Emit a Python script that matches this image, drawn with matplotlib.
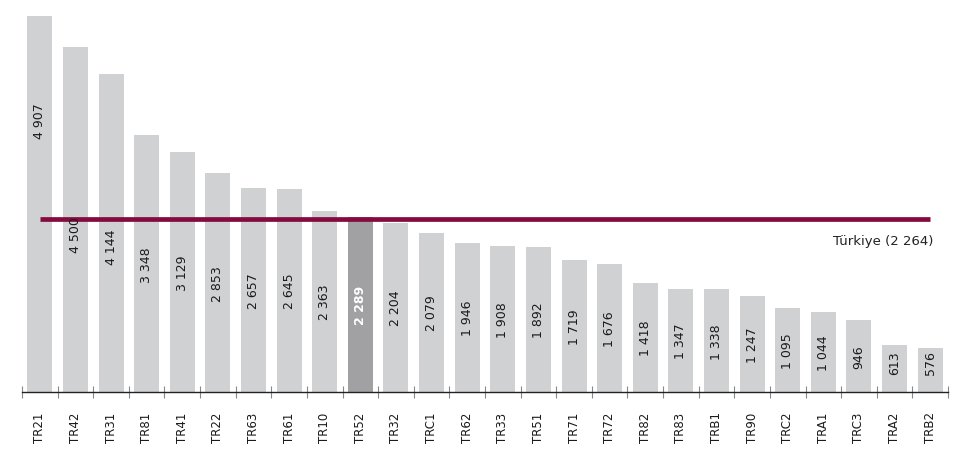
import numpy as np
import matplotlib
matplotlib.use('agg')
import matplotlib.pyplot as plt

regions = ['TR21', 'TR42', 'TR31', 'TR81', 'TR41', 'TR22', 'TR63', 'TR61', 'TR10', 'TR52',
           'TR32', 'TRC1', 'TR62', 'TR33', 'TR51', 'TR71', 'TR72', 'TR82', 'TR83', 'TRB1',
           'TR90', 'TRC2', 'TRA1', 'TRC3', 'TRA2', 'TRB2']
values = [4907, 4500, 4144, 3348, 3129, 2853, 2657, 2645, 2363, 2289,
          2204, 2079, 1946, 1908, 1892, 1719, 1676, 1418, 1347, 1338,
          1247, 1095, 1044, 946, 613, 576]
turkiye = 2264
highlight = 'TR52'

# label heights that were moved off the bar middle in the original
label_moved = {0: 3550, 1: 2060, 2: 1900, 24: 395, 25: 395}

def fmt(v):
    return f'{v:,}'.replace(',', ' ')

plt.rcParams['font.family'] = 'DejaVu Sans'

fig = plt.figure(figsize=(9.55, 4.6), dpi=100)
ax = fig.add_axes([22/955, (460-393)/460, (948-22)/955, (393-17)/460])

x = np.arange(len(regions))
colors = ['#a1a1a3' if r == highlight else '#d0d1d3' for r in regions]
ax.bar(x, values, width=0.70, color=colors, zorder=1)

ax.plot([x[0], x[-1]], [turkiye, turkiye], color='#850b3f', lw=3.4,
        solid_capstyle='butt', zorder=2)
ax.text(x[-1] + 0.1, turkiye - 290, f'Türkiye ({fmt(turkiye)})',
        ha='right', va='center', fontsize=9.5, color='#222222')

for i, v in enumerate(values):
    y = label_moved.get(i, v/2)
    hl = regions[i] == highlight
    ax.text(i, y, fmt(v), rotation=90, ha='center', va='center',
            fontsize=9, color='white' if hl else '#1a1a1a',
            fontweight='bold' if hl else 'normal', zorder=3)

ax.set_xlim(-0.5, len(regions) - 0.5)
ax.set_ylim(0, max(values))

for s in ['top', 'right', 'left']:
    ax.spines[s].set_visible(False)
ax.spines['bottom'].set_color('#222222')
ax.spines['bottom'].set_linewidth(1.0)
ax.set_yticks([])

ax.set_xticks(x)
ax.set_xticklabels(regions, rotation=90, fontsize=8.5, color='#1a1a1a')
ax.tick_params(axis='x', which='major', length=0, pad=14)
ax.set_xticks(np.arange(len(regions) + 1) - 0.5, minor=True)
ax.tick_params(axis='x', which='minor', direction='inout', length=8, width=0.8, color='#888888')

plt.savefig('out.png', dpi=100)
